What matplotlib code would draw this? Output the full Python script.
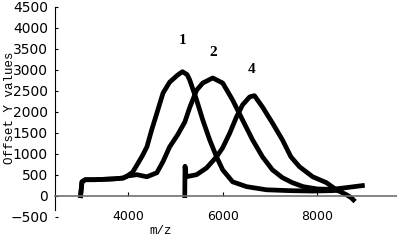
import matplotlib
matplotlib.use('Agg')
import matplotlib.pyplot as plt

# spectra (m/z, offset intensity)
mz1 = [3000, 3030, 3100, 3300, 3500, 3700, 3900, 4000, 4100, 4190, 4300, 4400,
       4500, 4610, 4740, 4880, 5050, 5150, 5250, 5305, 5450, 5580, 5725, 5870,
       6000, 6210, 6505, 6925, 7410, 7900, 8300, 8500]
y1 = [0, 330, 380, 380, 390, 400, 420, 480, 560, 730, 940, 1160,
      1560, 1960, 2440, 2700, 2870, 2950, 2880, 2750, 2275, 1800, 1330, 925,
      615, 330, 215, 140, 120, 110, 120, 130]

mz2 = [3000, 3030, 3100, 3300, 3500, 3700, 3900, 4000, 4190, 4400, 4610, 4740,
       4880, 5050, 5200, 5305, 5450, 5580, 5790, 6000, 6210, 6420, 6630, 6840,
       7050, 7260, 7470, 7700, 8000, 8300, 8600, 8950]
y2 = [0, 330, 380, 380, 390, 400, 420, 470, 500, 450, 545, 810,
      1160, 1450, 1750, 2100, 2510, 2680, 2800, 2680, 2275, 1800, 1330, 925,
      615, 430, 310, 215, 160, 150, 190, 240]

mz4 = [5200, 5205, 5230, 5450, 5660, 5870, 6000, 6150, 6290, 6420, 6570, 6670,
       6840, 7050, 7260, 7440, 7620, 7900, 8190, 8400, 8610, 8715, 8760]
y4 = [0, 700, 450, 500, 660, 925, 1140, 1490, 1870, 2160, 2350, 2380,
      2110, 1730, 1330, 925, 690, 450, 310, 140, 25, -50, -100]

peak_names = ['1', '2', '4']
peak_x = [5160, 5790, 6620]
peak_y = [3700, 3400, 3000]

fig = plt.figure(figsize=(3.97, 2.41), dpi=100)
ax = fig.add_axes([0.1385, 0.1008, 0.8615, 0.8722])

for mz, y in [(mz1, y1), (mz2, y2), (mz4, y4)]:
    ax.plot(mz, y, color='black', lw=3.4, solid_joinstyle='round')

for name, px, py in zip(peak_names, peak_x, peak_y):
    ax.text(px, py, name, ha='center', va='center', fontsize=11,
            fontweight='bold', family='Liberation Serif')

ax.set_xlim(2460, 9680)
ax.set_ylim(-500, 4500)
ax.set_xticks([4000, 6000, 8000])
ax.set_yticks(range(-500, 4501, 500))

ax.spines['top'].set_visible(False)
ax.spines['right'].set_visible(False)
ax.spines['bottom'].set_position(('data', 0))
ax.spines['bottom'].set_color('#707070')
ax.spines['bottom'].set_linewidth(1.2)
ax.spines['left'].set_bounds(-330, 4500)

ax.tick_params(axis='x', direction='in', length=3, pad=10, labelsize=9)
ax.tick_params(axis='y', direction='in', length=2, pad=5, labelsize=10)

ax.set_ylabel('Offset Y values', family='Liberation Mono', fontsize=9)
ax.yaxis.set_label_coords(-0.115, 0.52)
ax.text(0.31, -0.04, 'm/z', transform=ax.transAxes, ha='center', va='top',
        family='Liberation Mono', fontsize=9)

fig.savefig('out.png', dpi=100)
